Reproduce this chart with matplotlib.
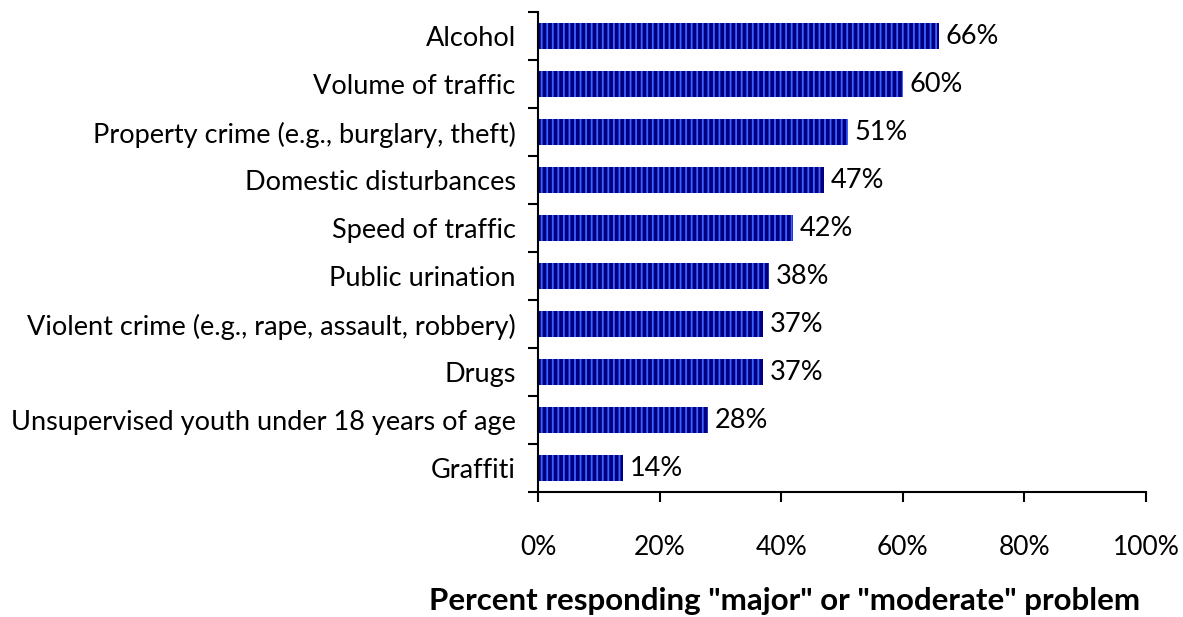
import matplotlib
matplotlib.use("Agg")
import matplotlib.pyplot as plt
import numpy as np

categories = [
    "Alcohol",
    "Volume of traffic",
    "Property crime (e.g., burglary, theft)",
    "Domestic disturbances",
    "Speed of traffic",
    "Public urination",
    "Violent crime (e.g., rape, assault, robbery)",
    "Drugs",
    "Unsupervised youth under 18 years of age",
    "Graffiti",
]
values = [66, 60, 51, 47, 42, 38, 37, 37, 28, 14]
xticks = [0, 20, 40, 60, 80, 100]
xlabel = 'Percent responding "major" or "moderate" problem'

plt.rcParams["font.family"] = ["Lato", "DejaVu Sans"]
plt.rcParams["hatch.linewidth"] = 1.3

fig = plt.figure(figsize=(11.83, 6.17), dpi=100)
ax = fig.add_axes([538 / 1183, 1 - 492 / 617, (1146 - 538) / 1183, (492 - 12) / 617])

y = np.arange(len(categories))
bars = ax.barh(y, values, height=0.56, color="#000080", edgecolor="#3f63ff",
               linewidth=0, hatch="|||")
for b, v in zip(bars, values):
    ax.text(v + 1.1, b.get_y() + b.get_height() / 2, f"{v}%", va="center",
            ha="left", fontsize=19.5, color="black")

ax.set_ylim(len(categories) - 0.5, -0.5)
ax.set_xlim(0, 100)
ax.set_yticks(y)
ax.set_yticklabels(categories, fontsize=19.5)
ax.set_yticks(np.arange(-0.5, len(categories)), minor=True)
ax.tick_params(axis="y", which="major", length=0, pad=16)
ax.tick_params(axis="y", which="minor", length=7, width=1.5, direction="out")
ax.set_xticks(xticks)
ax.set_xticklabels([f"{t}%" for t in xticks], fontsize=19)
ax.tick_params(axis="x", length=7, width=1.5, direction="out", pad=24)

for s in ("top", "right"):
    ax.spines[s].set_visible(False)
for s in ("left", "bottom"):
    ax.spines[s].set_linewidth(1.5)

fig.text(785 / 1183, 1 - 601 / 617, xlabel, ha="center", va="center",
         fontsize=22.5, fontweight="bold")

fig.savefig("out.png", dpi=100)
